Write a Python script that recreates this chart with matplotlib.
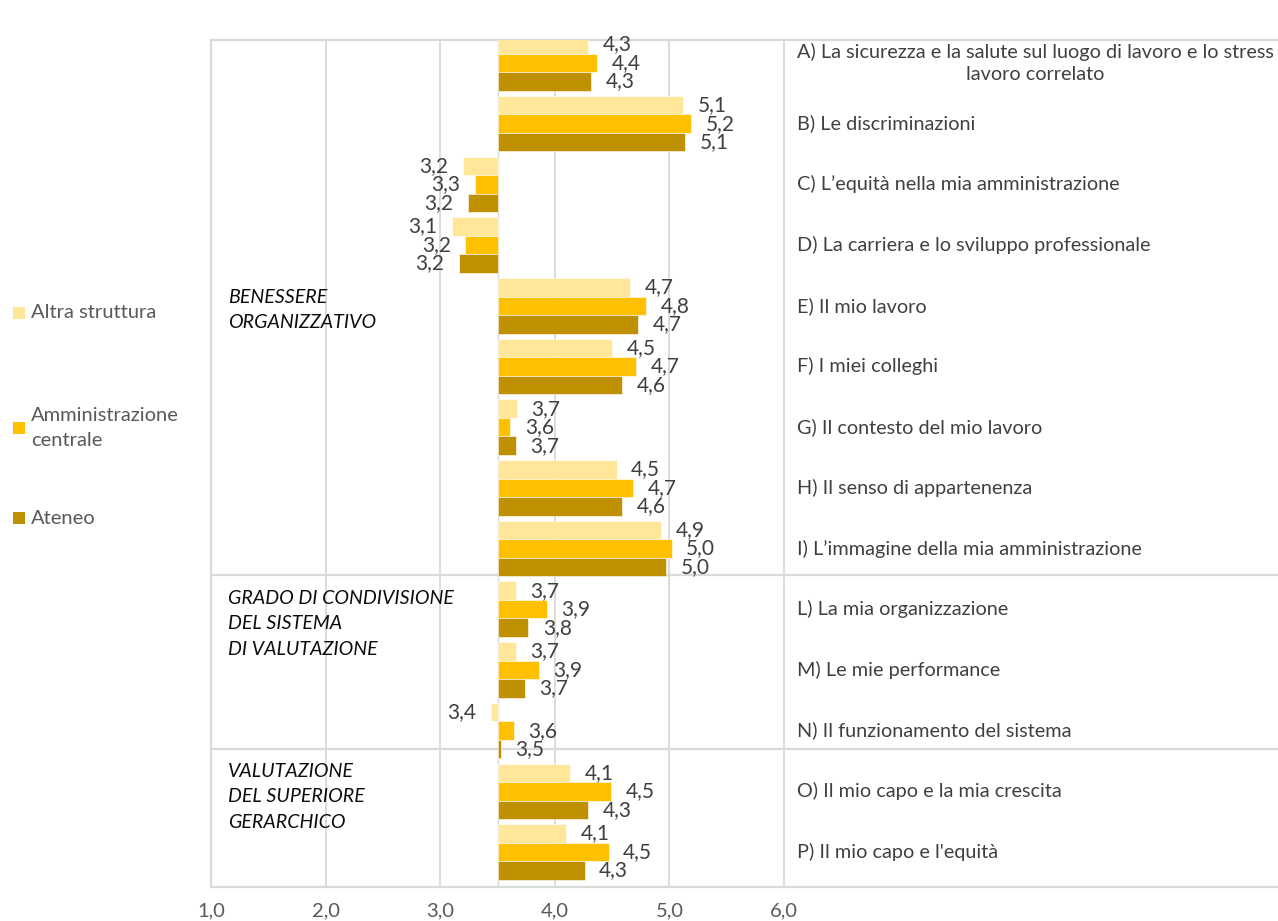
import matplotlib
matplotlib.use("Agg")
import matplotlib.pyplot as plt
from matplotlib.patches import Rectangle

plt.rcParams['font.family'] = ['Lato', 'DejaVu Sans']

categories = [
    "A) La sicurezza e la salute sul luogo di lavoro e lo stress\nlavoro correlato",
    "B) Le discriminazioni",
    "C) L\u2019equità nella mia amministrazione",
    "D) La carriera e lo sviluppo professionale",
    "E) Il mio lavoro",
    "F) I miei colleghi",
    "G) Il contesto del mio lavoro",
    "H) Il senso di appartenenza",
    "I) L\u2019immagine della mia amministrazione",
    "L) La mia organizzazione",
    "M) Le mie performance",
    "N) Il funzionamento del sistema",
    "O) Il mio capo e la mia crescita",
    "P) Il mio capo e l'equità",
]
series_names = ["Altra struttura", "Amministrazione\ncentrale", "Ateneo"]
altra = [4.29, 5.12, 3.20, 3.10, 4.66, 4.50, 3.67, 4.54, 4.93, 3.66, 3.66, 3.44, 4.13, 4.10]
amministrazione = [4.37, 5.19, 3.30, 3.22, 4.80, 4.71, 3.61, 4.68, 5.02, 3.93, 3.86, 3.64, 4.49, 4.47]
ateneo = [4.32, 5.14, 3.24, 3.16, 4.73, 4.59, 3.66, 4.59, 4.97, 3.77, 3.74, 3.53, 4.29, 4.26]
groups = ["BENESSERE\nORGANIZZATIVO",
          "GRADO DI CONDIVISIONE\nDEL SISTEMA\nDI VALUTAZIONE",
          "VALUTAZIONE\nDEL SUPERIORE\nGERARCHICO"]
group_centers = [4.07, 9.24, 12.09]
separators = [8.43, 11.30]
xticks = [1, 2, 3, 4, 5, 6]
baseline = 3.5

colors = ["#FFE699", "#FFC000", "#BF9000"]
series = [altra, amministrazione, ateneo]

W, H = 1278, 921
fig = plt.figure(figsize=(W / 100, H / 100), dpi=100)
ax = fig.add_axes([211 / W, 1 - 887 / H, (1278 - 211) / W, (887 - 40) / H])

px_per_unit = 114.6
ax.set_xlim(1, 1 + (1278 - 211) / px_per_unit)
ax.set_ylim(13 + (887 - 852) / 60.7, -(63 - 40) / 60.7)

bh = 0.305
offsets = [-bh, 0, bh]
ys = list(range(len(categories)))
for vals, col, off in zip(series, colors, offsets):
    yy = [y + off for y in ys]
    ax.barh(yy, [v - baseline for v in vals], left=baseline, height=bh,
            color=col, edgecolor='white', linewidth=0.4, zorder=3)
    for y, v in zip(yy, vals):
        txt = f"{v:.1f}".replace('.', ',')
        if v >= baseline:
            ax.annotate(txt, xy=(v, y), xytext=(10.5, 0), textcoords='offset points',
                        ha='left', va='center', fontsize=15, color='#404040', zorder=4)
        else:
            ax.annotate(txt, xy=(v, y), xytext=(-10.5, 0), textcoords='offset points',
                        ha='right', va='center', fontsize=15, color='#404040', zorder=4)

# grid & spines
grid_c = '#D9D9D9'
ax.set_xticks(xticks)
ax.set_xticklabels([f"{t:.1f}".replace('.', ',') for t in xticks], fontsize=14.5, color='#595959')
ax.tick_params(axis='x', length=0, pad=11)
ax.set_yticks([])
ax.grid(axis='x', color=grid_c, linewidth=1.3, zorder=0)
ax.axvline(baseline, color=grid_c, linewidth=1.0, zorder=1)
for s in separators:
    ax.axhline(s, color=grid_c, linewidth=1.6, zorder=1)
for side in ['top', 'bottom', 'left']:
    ax.spines[side].set_color(grid_c)
    ax.spines[side].set_linewidth(1.6)
ax.spines['right'].set_visible(False)

# category labels
cat_x = 1 + (797 - 211) / px_per_unit
for i, c in enumerate(categories):
    ax.text(cat_x, i, c, ha='left', va='center', fontsize=14.3, color='#404040',
            multialignment='center', linespacing=1.3)

# group labels
grp_x = 1 + (228 - 211) / px_per_unit
for g, yc in zip(groups, group_centers):
    ax.text(grp_x, yc, g, ha='left', va='center', fontsize=14.1, style='italic',
            color='#0D0D0D', linespacing=1.6)

# legend (manual)
leg_y = [313, 428, 518]
for name, col, yp in zip(series_names, colors, leg_y):
    fig.patches.append(Rectangle((13 / W, 1 - (yp + 6) / H), 12 / W, 12 / H,
                                 transform=fig.transFigure, facecolor=col, edgecolor='none'))
    fig.text(31 / W, 1 - yp / H, name, ha='left', va='center', fontsize=14.5,
             color='#595959', linespacing=1.6)

fig.savefig("out.png", dpi=100)
